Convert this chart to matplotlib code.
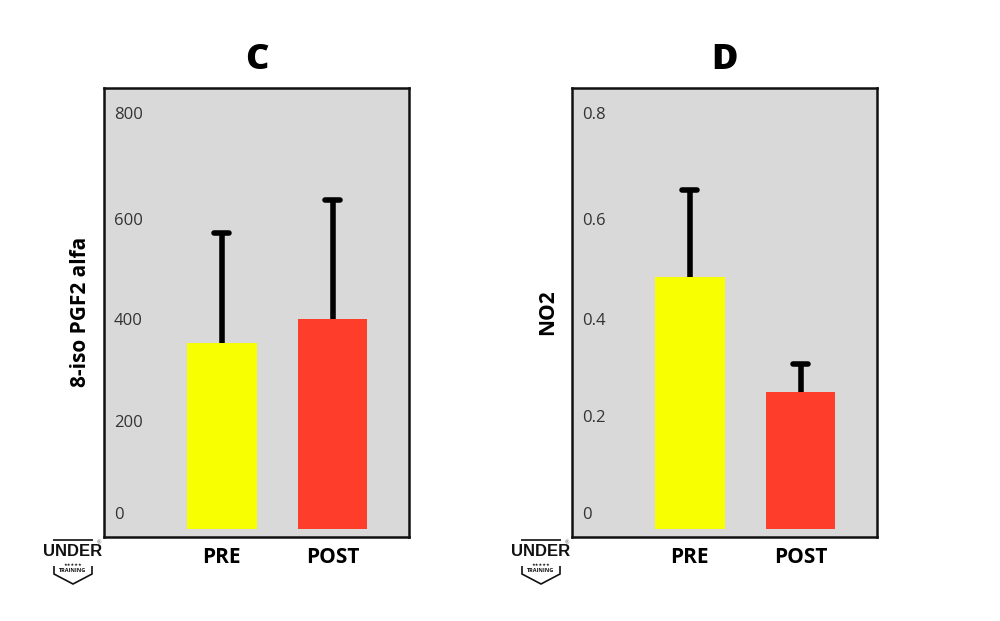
import matplotlib
matplotlib.use("Agg")
import matplotlib.pyplot as plt
from matplotlib.patches import Polygon

plt.rcParams['font.family'] = ['Open Sans', 'DejaVu Sans']

categories = ["PRE", "POST"]
bar_colors = ["#F8FF00", "#FF3D2B"]
c_values = [354, 400]
c_errors = [210, 227]
d_values = [0.48, 0.261]
d_errors = [0.166, 0.053]
c_ticks = [30, 206, 400, 590, 792]
c_tick_labels = ["0", "200", "400", "600", "800"]
d_ticks = [0.030, 0.215, 0.400, 0.590, 0.792]
d_tick_labels = ["0", "0.2", "0.4", "0.6", "0.8"]

W, H = 1000, 621
fig = plt.figure(figsize=(10, 6.21), dpi=100, facecolor="white")


def box(x0, y0, x1, y1):
    return [x0 / W, 1 - y1 / H, (x1 - x0) / W, (y1 - y0) / H]


def panel(x0, title, ylabel, values, errors, ticks, labels, ymax):
    ax = fig.add_axes(box(x0, 88, x0 + 305, 537), facecolor="#D9D9D9")
    xs = range(len(values))
    ax.bar(xs, values, width=0.63, color=bar_colors, zorder=2)
    tops = [v + e for v, e in zip(values, errors)]
    ax.vlines(xs, values, tops, color="black", lw=4, zorder=1)
    ax.hlines(tops, [x - 0.07 for x in xs], [x + 0.07 for x in xs],
              color="black", lw=4, capstyle="round", zorder=3)
    ax.set_xlim(-1.059, 1.689)
    ax.set_ylim(-ymax * 8 / 441, ymax)
    ax.set_xticks(list(xs), categories, fontsize=15, fontweight="bold", color="black")
    ax.tick_params(axis="x", length=0, pad=7)
    ax.set_yticks(ticks, labels, fontsize=12, color="#333333", ha="left")
    ax.tick_params(axis="y", length=0, pad=-7.2)
    for s in ax.spines.values():
        s.set_linewidth(1.8)
        s.set_color("#111111")
    fig.text((x0 + 153) / W, 1 - 60 / H, title, fontsize=26, fontweight="heavy",
             ha="center", va="center")
    fig.text((x0 - 24) / W, 1 - 312 / H, ylabel, fontsize=15, fontweight="bold",
             rotation=90, ha="center", va="center")


def logo(cx):
    fig.text(cx / W, 1 - 552 / H, "UNDER", fontsize=12, fontweight="bold",
             family="Liberation Sans", ha="center", va="center", color="#111111")
    top = [(-20, 540), (20, 540)]
    pts = [(-19, 566), (-19, 574), (0, 584), (19, 574), (19, 566)]
    for line in (top, pts):
        fig.add_artist(Polygon([((cx + x) / W, 1 - y / H) for x, y in line], closed=False,
                               fill=False, edgecolor="#111111", lw=1.2, transform=fig.transFigure))
    fig.text(cx / W, 1 - 571 / H, "TRAINING", fontsize=4, fontweight="bold",
             ha="center", va="center", color="#111111")
    fig.text(cx / W, 1 - 565 / H, "★★★★★", fontsize=3, ha="center", va="center",
             family="DejaVu Sans", color="#111111")
    fig.text((cx + 26) / W, 1 - 543 / H, "®", fontsize=4, ha="center", va="center", color="#555555")


panel(104, "C", "8-iso PGF2 alfa", c_values, c_errors, c_ticks, c_tick_labels, 840)
panel(572, "D", "NO2", d_values, d_errors, d_ticks, d_tick_labels, 0.84)
logo(73)
logo(541)

fig.savefig("out.png", dpi=100, facecolor="white")
